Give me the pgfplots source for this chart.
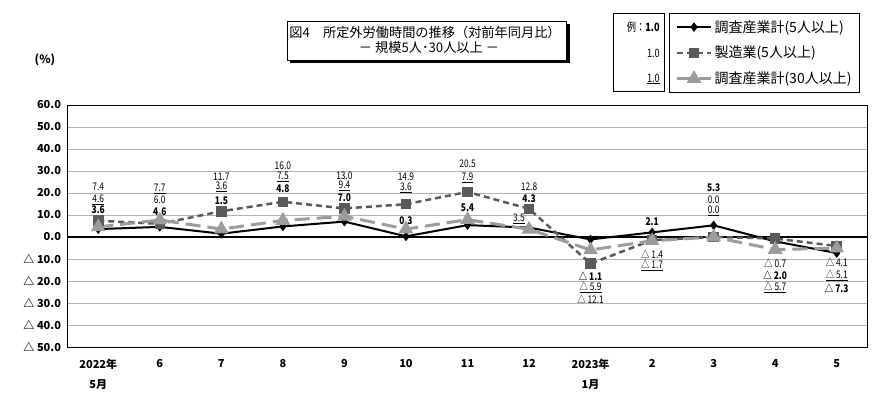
\documentclass[border=0pt]{standalone}
\usepackage{graphicx}
\usepackage{fontspec}
\setmainfont{Noto Sans CJK JP}
\usepackage{pgfplots}
\pgfplotsset{compat=1.18}
\definecolor{mfg}{HTML}{5A5A5A}
\definecolor{tth}{HTML}{9C9C9C}
\newcommand\lab[1]{\scalebox{0.8}[1]{\fontsize{10.5}{11}\selectfont #1}}
\newcommand\dl[4][0]{\node[inner sep=0pt,anchor=center,xshift=#1pt,yshift=#3pt] at (axis cs:#2,0) {\lab{#4}};}
\begin{document}
\begin{tikzpicture}
\path[use as bounding box] (0pt,0pt) rectangle (890pt,-396pt);
% title box
\fill[black] (290pt,-24pt) rectangle (570pt,-63pt);
\draw[fill=white,line width=0.8pt] (287pt,-21pt) rectangle (566pt,-60pt);
\node[font=\fontsize{13.2}{14}\selectfont,inner sep=0pt] at (425pt,-32pt) {図4　所定外労働時間の推移（対前年同月比）};
\node[font=\fontsize{13.2}{14}\selectfont,inner sep=0pt] at (429pt,-48pt) {－ 規模5人･30人以上 －};
% example box
\draw[line width=0.8pt] (613pt,-13pt) rectangle (664pt,-91pt);
\node[anchor=east,inner sep=0pt] at (660pt,-27pt) {\lab{\fontsize{11.5}{12}\selectfont 例：\textbf{1.0}}};
\node[anchor=east,inner sep=0pt] at (660pt,-53pt) {\lab{\fontsize{11.5}{12}\selectfont 1.0}};
\node[anchor=east,inner sep=0pt] at (660pt,-79pt) {\lab{\fontsize{11.5}{12}\selectfont\underline{1.0}}};
\node[font=\fontsize{11.5}{12}\selectfont\bfseries,inner sep=0pt] at (45pt,-60pt) {(\%)};
\begin{axis}[
  at={(67.5pt,-347pt)}, anchor=south west,
  scale only axis, width=800pt, height=242pt,
  xmin=-0.5, xmax=12.5, ymin=-50, ymax=60,
  xtick={0,...,12},
  xticklabels={{2022年\\5月},6,7,8,9,10,11,12,{2023年\\1月},2,3,4,5},
  ytick={-50,-40,...,60},
  yticklabels={△ 50.0,△ 40.0,△ 30.0,△ 20.0,△ 10.0,0.0,10.0,20.0,30.0,40.0,50.0,60.0},
  xticklabel style={align=center,font=\fontsize{11}{20}\selectfont\bfseries,yshift=-9pt},
  yticklabel style={font=\fontsize{11}{12}\selectfont\bfseries,xshift=-3pt},
  major tick length=0pt,
  ymajorgrids,
  grid style={black!30,line width=0.9pt},
  extra y ticks={0}, extra y tick labels={},
  extra y tick style={grid style={black,line width=1.8pt}},
  axis line style={line width=0.8pt},
  legend style={at={(0.752,1.380)},anchor=north west,draw=black,line width=0.8pt,
    font=\fontsize{14}{15}\selectfont,inner xsep=6pt,inner ysep=5pt,row sep=8.5pt,
    cells={anchor=west}},
  legend image code/.code={\draw[mark repeat=2,mark phase=2,#1] plot coordinates {(0pt,0pt)(17pt,0pt)(34pt,0pt)};},
]
\addplot[black,line width=2pt,mark=diamond*,mark size=3.2pt,mark options={solid}]
 coordinates {(0,3.6)(1,4.6)(2,1.5)(3,4.8)(4,7.0)(5,0.3)(6,5.4)(7,4.3)(8,-1.1)(9,2.1)(10,5.3)(11,-2.0)(12,-7.3)};
\addlegendentry{調査産業計(5人以上)}
\addplot[mfg,line width=2.5pt,dash pattern=on 6pt off 4pt,mark=square*,mark size=4pt,mark options={solid}]
 coordinates {(0,7.4)(1,6.0)(2,11.7)(3,16.0)(4,13.0)(5,14.9)(6,20.5)(7,12.8)(8,-12.1)(9,-1.4)(10,0.0)(11,-0.7)(12,-4.1)};
\addlegendentry{製造業(5人以上)}
\addplot[tth,line width=3pt,dash pattern=on 15pt off 7pt,mark=triangle*,mark size=5.5pt,mark options={solid}]
 coordinates {(0,4.6)(1,7.7)(2,3.6)(3,7.5)(4,9.4)(5,3.6)(6,7.9)(7,3.5)(8,-5.9)(9,-1.7)(10,0.0)(11,-5.7)(12,-5.1)};
\addlegendentry{調査産業計(30人以上)}
% data labels
\dl{0}{50}{7.4}\dl{0}{37}{\underline{4.6}}\dl{0}{27}{\textbf{3.6}}
\dl{1}{48}{\underline{7.7}}\dl{1}{37}{6.0}\dl{1}{25}{\textbf{4.6}}
\dl{2}{60}{11.7}\dl{2}{50}{\underline{3.6}}\dl{2}{36}{\textbf{1.5}}
\dl{3}{71}{16.0}\dl{3}{60}{\underline{7.5}}\dl{3}{48}{\textbf{4.8}}
\dl{4}{61}{13.0}\dl{4}{51}{\underline{9.4}}\dl{4}{39}{\textbf{7.0}}
\dl{5}{60}{14.9}\dl{5}{49}{\underline{3.6}}\dl{5}{16}{\textbf{0.3}}
\dl{6}{73}{20.5}\dl{6}{59}{\underline{7.9}}\dl{6}{29}{\textbf{5.4}}
\dl{7}{50}{12.8}\dl{7}{38}{\textbf{4.3}}\dl[-10]{7}{18}{\underline{3.5}}
\dl{8}{-39}{\textbf{△ 1.1}}\dl{8}{-50}{\underline{△ 5.9}}\dl{8}{-62}{△ 12.1}
\dl{9}{15}{\textbf{2.1}}\dl{9}{-17}{△ 1.4}\dl{9}{-28}{\underline{△ 1.7}}
\dl{10}{49}{\textbf{5.3}}\dl{10}{37}{0.0}\dl{10}{26}{\underline{0.0}}
\dl{11}{-26}{△ 0.7}\dl{11}{-38}{\textbf{△ 2.0}}\dl{11}{-50}{\underline{△ 5.7}}
\dl{12}{-25}{△ 4.1}\dl{12}{-38}{\underline{△ 5.1}}\dl{12}{-51}{\textbf{△ 7.3}}
\end{axis}
\end{tikzpicture}
\end{document}
